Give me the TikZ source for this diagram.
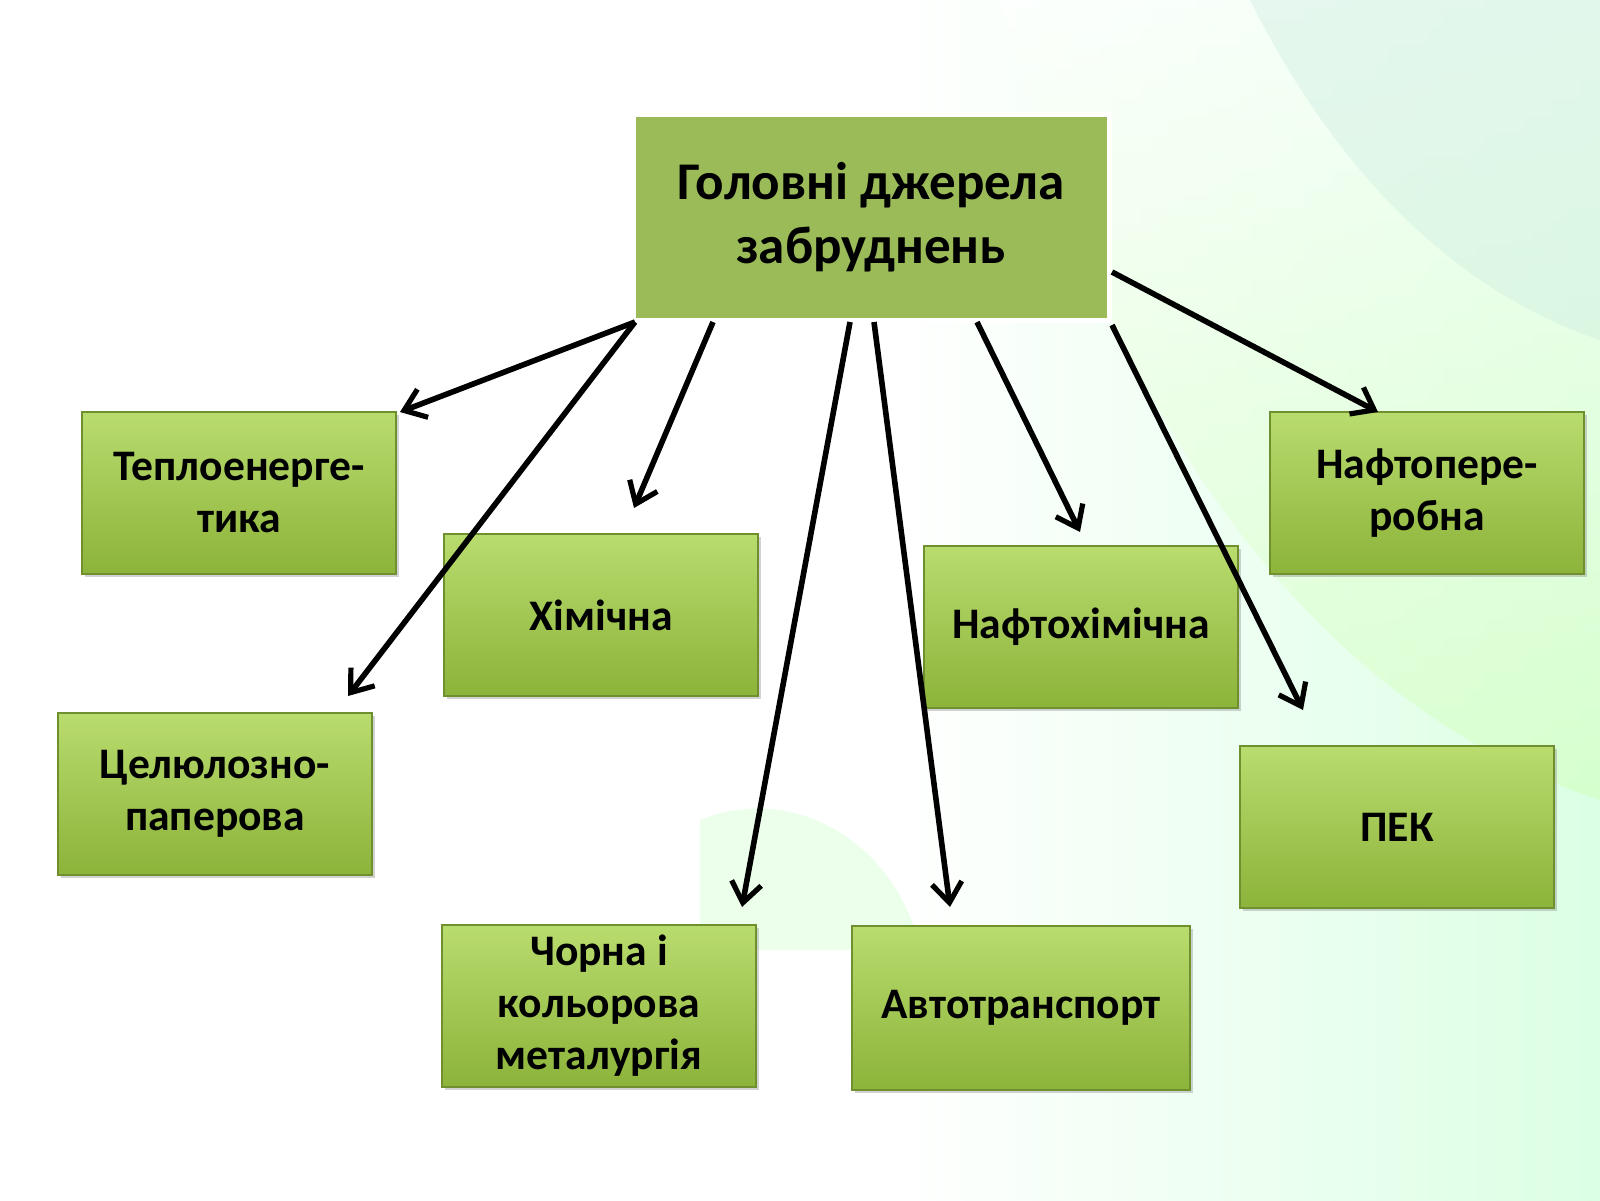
\documentclass[tikz,border=0pt]{standalone}
\usepackage{fontspec}
\setmainfont{Carlito}
\usetikzlibrary{arrows.meta,shadows,calc}
\definecolor{tgreen}{HTML}{9BBB59}
\definecolor{gtop}{HTML}{B9DC6E}
\definecolor{gbot}{HTML}{8CB33A}
\tikzset{
  box/.style={draw=gbot!80!black,line width=0.6pt,top color=gtop,bottom color=gbot,
    drop shadow={shadow xshift=1.5pt,shadow yshift=-1.5pt,opacity=0.35},
    font=\bfseries\fontsize{21.8}{26}\selectfont,align=center,inner sep=0pt},
  conn/.style={line width=2.8pt,-{Straight Barb[length=10pt,width=15pt,line width=2.6pt]}}
}
\begin{document}
\begin{tikzpicture}[x=0.5pt,y=-0.5pt]
\useasboundingbox (0,0) rectangle (1600,1200);
% background
\fill[white] (0,0) rectangle (1600,1200);
\shade[left color=white,right color=cyan!25!green!20,opacity=0.7] (900,0) rectangle (1600,1200);
\shade[top color=white,bottom color=yellow!30!green!25,opacity=0.6] (1000,0) .. controls (1100,400) and (1300,700) .. (1600,800) -- (1600,0) -- cycle;
\fill[cyan!40!green!20,opacity=0.4] (1250,0) .. controls (1350,200) and (1480,300) .. (1600,340) -- (1600,0) -- cycle;
\fill[green!30,opacity=0.25] (700,820) .. controls (800,780) and (900,850) .. (920,950) -- (700,950) -- cycle;
% nodes
\node[draw=white,line width=2.5pt,fill=tgreen,minimum width=238pt,minimum height=103pt,
  font=\bfseries\fontsize{26.5}{32}\selectfont,align=center,inner sep=0pt] (T) at (871,217) {Головні джерела\\забруднень};
\node[box,minimum width=157pt,minimum height=81pt] (A) at (239,493) {Теплоенерге-\\тика};
\node[box,minimum width=157pt,minimum height=81pt] (B) at (601,615) {Хімічна};
\node[box,minimum width=157pt,minimum height=81pt] (C) at (215,794) {Целюлозно-\\паперова};
\node[box,minimum width=157pt,minimum height=81pt] (D) at (599,1006) {Чорна і\\кольорова\\металургія};
\node[box,minimum width=169pt,minimum height=82pt] (E) at (1021,1008) {Автотранспорт};
\node[box,minimum width=157pt,minimum height=81pt] (F) at (1081,627) {Нафтохімічна};
\node[box,minimum width=157pt,minimum height=81pt] (G) at (1427,493) {Нафтопере-\\робна};
\node[box,minimum width=157pt,minimum height=81pt] (H) at (1397,827) {ПЕК};
% connector end points
\coordinate (t1) at (635,322); \coordinate (t3) at (713,322);
\coordinate (t4) at (850,322); \coordinate (t5) at (874,322);
\coordinate (t6) at (977,322); \coordinate (t7) at (1112,325);
\coordinate (t8) at (1112,272);
\coordinate (e1) at (400,412); \coordinate (e2) at (348,696);
\coordinate (e3) at (634,508); \coordinate (e4) at (742,907);
\coordinate (e5) at (950,907); \coordinate (e6) at (1080,532);
\coordinate (e7) at (1303,710); \coordinate (e8) at (1378,412);
\draw[conn] (t1) -- (e1);
\draw[conn] (t1) -- (e2);
\draw[conn] (t3) -- (e3);
\draw[conn] (t4) -- (e4);
\draw[conn] (t5) -- (e5);
\draw[conn] (t6) -- (e6);
\draw[conn] (t7) -- (e7);
\draw[conn] (t8) -- (e8);
\end{tikzpicture}
\end{document}
